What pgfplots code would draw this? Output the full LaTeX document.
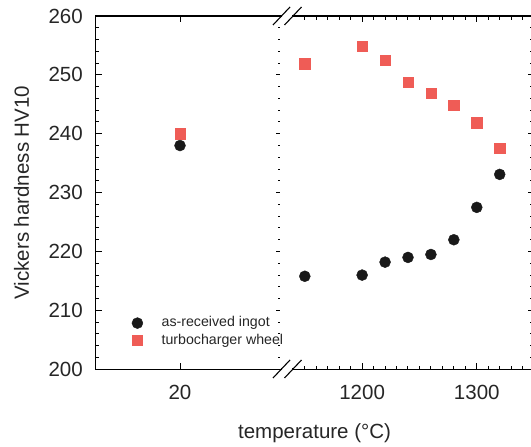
\documentclass[border=0pt]{standalone}
\usepackage{pgfplots}
\pgfplotsset{compat=1.18}
\usepackage{fontspec}
\setmainfont{Liberation Sans}
\definecolor{redsq}{RGB}{239,92,86}
\definecolor{blk}{RGB}{25,25,25}
\newcommand\ytl[1]{\fontsize{20.5}{24}\selectfont\color{black!85}#1\hspace*{9.4pt}}
\newcommand\xtl[1]{\fontsize{20.5}{24}\selectfont\color{black!85}\rule{0pt}{26.4pt}#1}
\newcommand\lbl[1]{\fontsize{20.5}{24}\selectfont\color{black!85}#1}
\begin{document}
\begin{tikzpicture}
% ---- left part: labels and the 20 degC points
\begin{axis}[
  at={(95.7pt,77.7pt)}, anchor=south west, scale only axis, width=185.8pt, height=353.3pt,
  xmin=0, xmax=44.08, xtick={20}, xticklabels={\xtl{20}},
  ymin=200, ymax=260, ytick={200,210,220,230,240,250,260},
  yticklabels={\ytl{200},\ytl{210},\ytl{220},\ytl{230},\ytl{240},\ytl{250},\ytl{260}},
  minor y tick num=4,
  ytick pos=left,
  major tick length=6pt, minor tick length=3.5pt,
  every major tick/.append style={line width=1pt, black},
  every minor tick/.append style={line width=1pt, black},
  axis line style={line width=1.2pt},
  xlabel={\lbl{temperature (°C)}},
  xlabel style={at={(axis description cs:1.178,-0.1803)}, anchor=center},
  ylabel={\lbl{Vickers hardness HV10}},
  ylabel style={at={(axis description cs:-0.3994,0.5)}, anchor=center},
]
\addplot[only marks, mark=square*, mark size=5.2pt, color=redsq] coordinates {(20,240)};
\addplot[only marks, mark=*, mark size=5.5pt, color=blk] coordinates {(20,238)};
\end{axis}
% ---- left part: tick overlay (mirrored directions, no labels)
\begin{axis}[
  at={(95.7pt,77.7pt)}, anchor=south west, scale only axis, width=185.8pt, height=353.3pt,
  x dir=reverse, y dir=reverse,
  xmin=0, xmax=44.08, xtick={24.08}, xticklabels={},
  ymin=200, ymax=260, ytick={200,210,220,230,240,250,260}, yticklabels={},
  minor y tick num=4,
  xtick pos=both, ytick pos=right,
  major tick length=6pt, minor tick length=3.5pt,
  every major tick/.append style={line width=1pt, black},
  every minor tick/.append style={line width=1pt, black},
  axis line style={line width=1.2pt},
]
\end{axis}
% hide the right spine of the left part
\draw[line width=2.5pt, white] (281.5pt,78.6pt) -- (281.5pt,430.1pt);
% ---- right part: data and legend
\begin{axis}[
  at={(293pt,77.7pt)}, anchor=south west, scale only axis, width=241pt, height=353.3pt,
  ymin=200, ymax=260, ytick={200,210,...,260}, minor y tick num=4,
  xmin=1139.7, xmax=1349.9, xtick={1200,1300}, xticklabels={\xtl{1200},\xtl{1300}},
  minor xtick={1150,1160,1170,1180,1190,1210,1220,1230,1240,1250,1260,1270,1280,1290,1310,1320,1330,1340},
  major tick length=6pt, minor tick length=3.5pt,
  every major tick/.append style={line width=1pt, black},
  every minor tick/.append style={line width=1pt, black},
  axis line style={line width=1.2pt},
  ytick pos=right, yticklabels={},
  legend style={at={(axis description cs:-0.6763,0.1489)}, anchor=north west,
    draw=none, fill=none, inner sep=0pt, row sep=5pt,
    font=\fontsize{14.2}{16}\selectfont,
    nodes={inner sep=0pt, text height=7.5pt, text depth=0pt, text=black!85},
    cells={anchor=west}},
  legend image code/.code={\path (-7pt,-6pt) (24pt,6pt); \draw[#1] plot coordinates {(0pt,0pt)};},
]
\addplot[only marks, mark=*, mark size=5.5pt, color=blk] coordinates {
(1150,215.8) (1200,216.0) (1220,218.2) (1240,219.0) (1260,219.5) (1280,222.0) (1300,227.5) (1320,233.1)};
\addlegendentry{as-received ingot}
\addplot[only marks, mark=square*, mark size=5.2pt, color=redsq] coordinates {
(1150,251.9) (1200,254.9) (1220,252.5) (1240,248.8) (1260,246.9) (1280,244.9) (1300,241.9) (1320,237.5)};
\addlegendentry{turbocharger wheel}
\end{axis}
% ---- right part: tick overlay (y mirrored, no labels)
\begin{axis}[
  at={(293pt,77.7pt)}, anchor=south west, scale only axis, width=241pt, height=353.3pt,
  y dir=reverse,
  ymin=200, ymax=260, ytick={200,210,...,260}, minor y tick num=4, yticklabels={},
  xmin=1139.7, xmax=1349.9, xtick={1200,1300}, xticklabels={},
  minor xtick={1150,1160,1170,1180,1190,1210,1220,1230,1240,1250,1260,1270,1280,1290,1310,1320,1330,1340},
  xtick pos=both, ytick pos=right,
  major tick length=6pt, minor tick length=3.5pt,
  every major tick/.append style={line width=1pt, black},
  every minor tick/.append style={line width=1pt, black},
  axis line style={line width=1.2pt},
]
\end{axis}
% hide the left spine of the right part
\draw[line width=2.5pt, white] (293pt,78.6pt) -- (293pt,430.1pt);
% break marks
\draw[line width=1.1pt, black] (273pt,69pt) -- (290pt,87pt) (284.5pt,69pt) -- (301.5pt,87pt);
\draw[line width=1.1pt, black] (273pt,422pt) -- (290pt,440pt) (284.5pt,422pt) -- (301.5pt,440pt);
\pgfresetboundingbox
\path[use as bounding box] (0,0) rectangle (531pt,447pt);
\end{tikzpicture}
\end{document}
